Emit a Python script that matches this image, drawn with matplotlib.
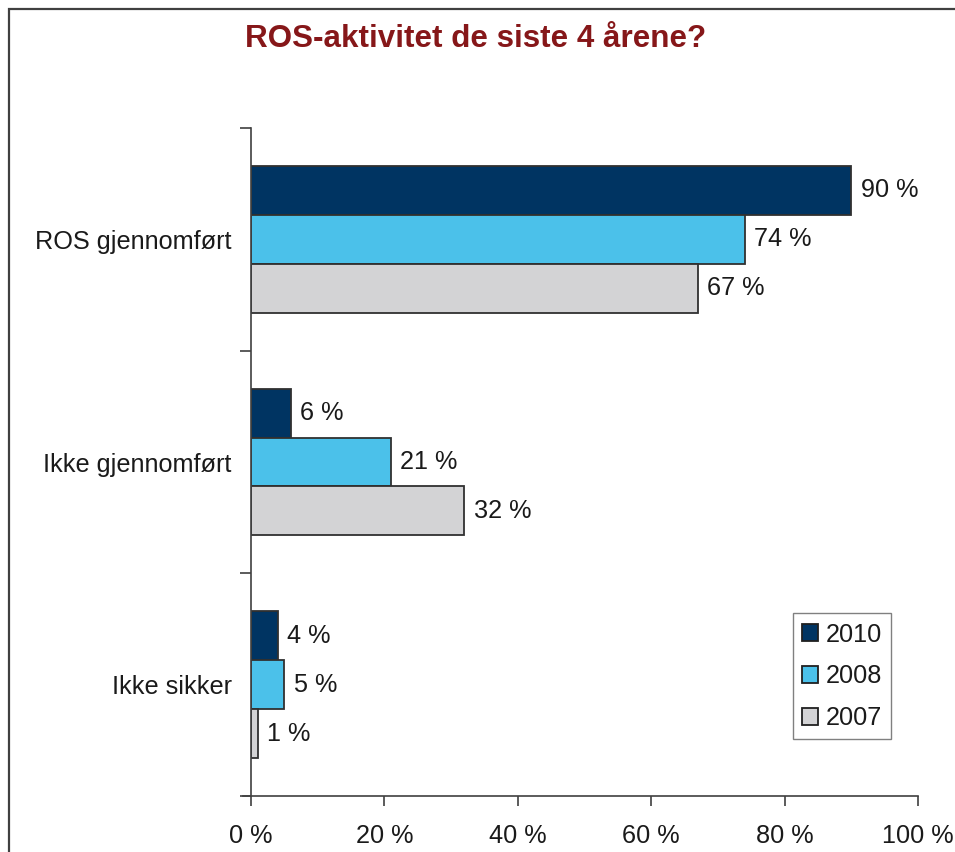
import matplotlib.pyplot as plt
import numpy as np
from matplotlib.patches import Patch, Rectangle

plt.rcParams['font.family'] = ['Liberation Sans', 'DejaVu Sans']

categories = ["ROS gjennomført", "Ikke gjennomført", "Ikke sikker"]
years = ["2010", "2008", "2007"]
values = {
    "2010": [90, 6, 4],
    "2008": [74, 21, 5],
    "2007": [67, 32, 1],
}
colors = {"2010": "#003462", "2008": "#4BC1EA", "2007": "#D3D3D5"}
xticks = [0, 20, 40, 60, 80, 100]

fs = 18.2
fig = plt.figure(figsize=(9.55, 8.52), dpi=100)
ax = fig.add_axes([251 / 955, 1 - 796 / 852, 667 / 955, 668 / 852])

# frame around the chart area (only top/left visible in crop)
fig.add_artist(Rectangle((9 / 955, -0.1), 1.2, 1 - 9 / 852 + 0.1,
                         transform=fig.transFigure, fill=False,
                         edgecolor="#404040", linewidth=1.6))

n = len(categories)
centers = n - 0.5 - np.arange(n)
bar_h = 0.22
for i, year in enumerate(years):
    y = centers + (1 - i) * bar_h
    ax.barh(y, values[year], height=bar_h, color=colors[year],
            edgecolor="#303030", linewidth=1.3, label=year)
    for yy, v in zip(y, values[year]):
        ax.text(v + 1.4, yy, f"{v} %", va="center", ha="left", fontsize=fs, color="#1a1a1a")

ax.set_xlim(0, 100)
ax.set_ylim(0, n)
ax.set_xticks(xticks)
ax.set_xticklabels([f"{t} %" for t in xticks], fontsize=fs, color="#1a1a1a")
ax.set_yticks(np.arange(n + 1))
ax.set_yticklabels([])
ax.set_yticks(centers, minor=True)
ax.set_yticklabels(categories, minor=True, fontsize=fs, color="#1a1a1a")
ax.tick_params(axis="y", which="minor", length=0, pad=14)
ax.tick_params(axis="y", which="major", length=8, color="#404040", width=1.2)
ax.tick_params(axis="x", length=7, color="#404040", width=1.2, pad=13.5)
for s in ["top", "right"]:
    ax.spines[s].set_visible(False)
for s in ["left", "bottom"]:
    ax.spines[s].set_color("#404040")
    ax.spines[s].set_linewidth(1.2)
ax.spines["bottom"].set_bounds(-1.2, 100)
ax.spines["bottom"].set_clip_on(False)

handles = [Patch(facecolor=colors[y], edgecolor="#202020", linewidth=1.3, label=y) for y in years]
leg = ax.legend(handles=handles, loc="lower right", bbox_to_anchor=(891 / 955, 1 - 739 / 852),
                bbox_transform=fig.transFigure, fontsize=fs, frameon=True, fancybox=False,
                edgecolor="#606060", handlelength=0.66, handleheight=0.66, handletextpad=0.28,
                labelspacing=0.7, borderpad=0.36, borderaxespad=0)
leg.get_frame().set_linewidth(1.0)
for t in leg.get_texts():
    t.set_color("#1a1a1a")

fig.text(476 / 955, 1 - 39 / 852, "ROS-aktivitet de siste 4 årene?", ha="center", va="center",
         fontsize=22.6, fontweight="bold", color="#861719")

fig.savefig("out.png", dpi=100)
